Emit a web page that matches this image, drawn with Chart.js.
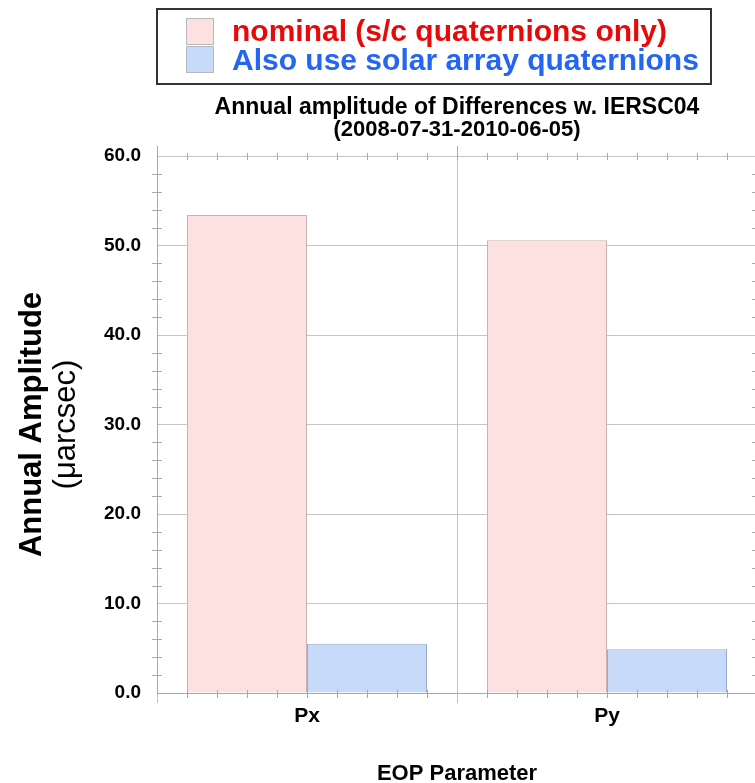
<!DOCTYPE html>
<html>
<head>
<meta charset="utf-8">
<script src="https://cdn.jsdelivr.net/npm/chart.js@4.4.1/dist/chart.umd.min.js"></script>
<style>
  body { margin: 0; background: #fff; overflow: hidden; }
  #wrap { position: relative; width: 760px; height: 783px; }
</style>
</head>
<body>
<div id="wrap"><canvas id="chart"></canvas></div>
<script>
// data
const categories = ['Px', 'Py'];
const nominal = [53.4, 50.6];
const solarArray = [5.5, 4.9];
const yTicks = [0, 10, 20, 30, 40, 50, 60];

const seriesNames = ['nominal (s/c quaternions only)', 'Also use solar array quaternions'];
const titleLines = ['Annual amplitude of Differences w. IERSC04', '(2008-07-31-2010-06-05)'];

const FONT = '"Liberation Sans", Arial, Helvetica, sans-serif';
const gridColor = '#c4c4c4';
const axisColor = '#a8a8a8';

function line(ctx, x1, y1, x2, y2) {
    ctx.beginPath();
    ctx.moveTo(x1, y1);
    ctx.lineTo(x2, y2);
    ctx.stroke();
}

// minor ticks, legend box and the titles
const decor = {
    id: 'decor',
    afterDatasetsDraw(chart) {
        const { ctx, chartArea: a, scales: { x, y } } = chart;
        ctx.save();
        ctx.strokeStyle = axisColor;
        ctx.lineWidth = 1;
        for (let v = yTicks[0]; v <= yTicks[yTicks.length - 1]; v += 2) {
            if (v % 10 === 0) continue;
            const py = Math.round(y.getPixelForValue(v)) + 0.5;
            line(ctx, a.left - 5, py, a.left + 5, py);
            line(ctx, a.right - 5, py, a.right + 5, py);
        }
        const step = x.width / categories.length / 10;
        for (let i = 0; i <= categories.length * 10; i++) {
            const px = Math.round(a.left + i * step) + 0.5;
            const out = i % 10 === 0 ? 10 : 3;
            line(ctx, px, a.top - out, px, a.top + 4);
            if (i % 10 !== 0) line(ctx, px, a.bottom - 3, px, a.bottom + 5);
        }
        ctx.restore();
    },
    afterDraw(chart) {
        const { ctx, chartArea: a } = chart;
        ctx.save();
        // legend
        ctx.strokeStyle = '#333';
        ctx.lineWidth = 2;
        ctx.strokeRect(157, 9, 554, 75);
        const ds = chart.data.datasets;
        const textColors = ['#e60a0a', '#2466f2'];
        ds.forEach((d, i) => {
            const top = 18 + i * 28;
            ctx.fillStyle = d.backgroundColor;
            ctx.fillRect(186, top, 28, 27);
            ctx.strokeStyle = '#b8b8c0';
            ctx.lineWidth = 1;
            ctx.strokeRect(186.5, top + 0.5, 27, 26);
            ctx.fillStyle = textColors[i];
            ctx.font = 'bold 30px ' + FONT;
            ctx.textAlign = 'left';
            ctx.textBaseline = 'alphabetic';
            ctx.fillText(seriesNames[i], 232, 41 + i * 29);
        });
        // title
        const cx = (a.left + a.right) / 2;
        ctx.fillStyle = '#000';
        ctx.textAlign = 'center';
        ctx.font = 'bold 23px ' + FONT;
        ctx.fillText(titleLines[0], cx, 114);
        ctx.font = 'bold 22px ' + FONT;
        ctx.fillText(titleLines[1], cx, 136);
        // x axis title
        ctx.font = 'bold 22px ' + FONT;
        ctx.fillText('EOP Parameter', cx, 780);
        // y axis title
        const cy = (a.top + a.bottom) / 2;
        ctx.translate(41, cy);
        ctx.rotate(-Math.PI / 2);
        ctx.font = 'bold 31px ' + FONT;
        ctx.fillText('Annual Amplitude', 0, 0);
        ctx.font = '31px ' + FONT;
        ctx.fillText('(\u03bcarcsec)', 0, 34);
        ctx.restore();
    }
};

new Chart(document.getElementById('chart'), {
    type: 'bar',
    data: {
        labels: categories,
        datasets: [
            {
                label: seriesNames[0],
                data: nominal,
                backgroundColor: '#fde0e0',
                borderColor: '#cdb0b0',
                borderWidth: 1,
                categoryPercentage: 0.8,
                barPercentage: 1.0
            },
            {
                label: seriesNames[1],
                data: solarArray,
                backgroundColor: '#c8dafa',
                borderColor: '#9aaacb',
                borderWidth: 1,
                categoryPercentage: 0.8,
                barPercentage: 1.0
            }
        ]
    },
    options: {
        responsive: true,
        maintainAspectRatio: false,
        animation: false,
        layout: { padding: { left: 0, top: 156, right: 3, bottom: 48 } },
        plugins: {
            legend: { display: false },
            title: { display: false },
            tooltip: { enabled: false }
        },
        scales: {
            x: {
                grid: { offset: true, color: gridColor, tickLength: 10, drawTicks: true },
                border: { color: axisColor },
                ticks: { color: '#000', font: { family: FONT, size: 21, weight: 'bold' }, padding: 1 },
                afterFit: s => { s.height = 42; }
            },
            y: {
                min: yTicks[0],
                max: yTicks[yTicks.length - 1],
                grid: { color: gridColor, drawTicks: false },
                border: { color: axisColor },
                ticks: {
                    stepSize: 10,
                    color: '#000',
                    font: { family: FONT, size: 19, weight: 'bold' },
                    padding: 16,
                    callback: v => v.toFixed(1)
                },
                afterFit: s => { s.width = 157; }
            }
        }
    },
    plugins: [decor]
});
</script>
</body>
</html>
